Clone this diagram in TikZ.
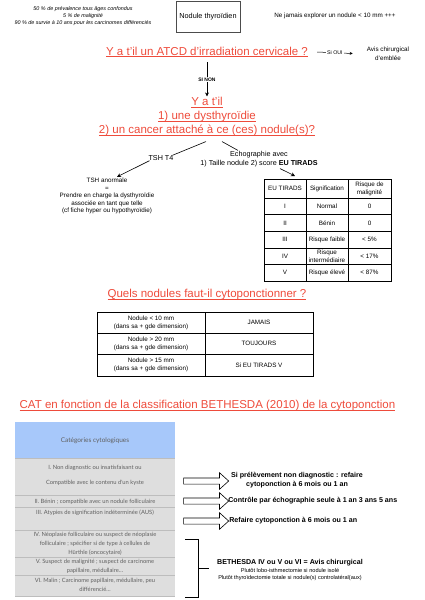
\documentclass[tikz,border=0pt]{standalone}
\usepackage{fontspec}
\setmainfont{Liberation Sans}
\newfontfamily\catfont{Lato}
\usetikzlibrary{arrows.meta, shapes.arrows, positioning, calc}

\definecolor{titlered}{HTML}{EE4B3B}
\definecolor{catblue}{HTML}{A7C8FA}
\definecolor{catgray}{HTML}{DEDEDE}
\definecolor{catline}{HTML}{BDBDBD}
\definecolor{cattext}{HTML}{606060}

% underline drawn as a rule under the text
\newcommand\ulred[1]{\setbox0\hbox{#1}\rlap{\rule[-2pt]{\wd0}{0.7pt}}\box0}

\tikzset{
  redtitle/.style={text=titlered, font=\fontsize{11.5}{14}\selectfont,
                   align=center, inner sep=1pt},
  smalltext/.style={font=\fontsize{6.3}{7.5}\selectfont, align=center, inner sep=1pt},
  celltext/.style={font=\fontsize{6.3}{8}\selectfont, align=center, inner sep=0pt},
  boldtext/.style={font=\bfseries\fontsize{7.1}{8.5}\selectfont, align=center, inner sep=1pt},
  hollowarrow/.style={single arrow, draw=black, fill=white, line width=0.6pt,
                      inner sep=2.75pt, single arrow head extend=5.25pt,
                      single arrow tip angle=84, minimum height=45pt, minimum width=16pt},
  cattext/.style={text=cattext, font=\catfont\fontsize{5.8}{9}\selectfont,
                  align=center, inner sep=0pt},
  linklabel/.style={fill=white, inner sep=1pt, font=\fontsize{5.3}{6}\selectfont},
  link/.style={line width=0.6pt},
  linkarrow/.style={-{Stealth[length=4pt,width=4pt]}, line width=0.6pt}
}

\begin{document}
\begin{tikzpicture}[x=1pt, y=-1pt]
\useasboundingbox (0,0) rectangle (424,600);

% header
\node[smalltext, font=\itshape\fontsize{5.4}{7}\selectfont] (stats) at (83,16)
  {50 \% de prévalence tous âges confondus\\5 \% de malignité\\
   90 \% de survie à 10 ans pour les carcinomes différenciés};
\node[draw=black!70, line width=0.5pt, minimum width=64pt, minimum height=31pt,
      font=\fontsize{7.3}{8}\selectfont] (nodule) at (208,16.5) {Nodule thyroïdien};
\node[smalltext] (jamais) at (335,16) {Ne jamais explorer un nodule < 10 mm +++};

% irradiation
\node[redtitle] (atcd) at (207,52) {\ulred{Y a t'il un ATCD d'irradiation cervicale ?}};
\node[smalltext, font=\fontsize{6.3}{9}\selectfont] (avis) at (388,53.5)
  {Avis chirurgical\\d'emblée};
\draw[-{Stealth[length=3pt,width=3pt]}, line width=0.5pt] ([xshift=8pt]atcd.east)
  -- node[linklabel] {Si OUI} ([xshift=-13pt]avis.west);

\node[redtitle] (q2) at (207,117)
  {\ulred{Y a t'il}\\\ulred{1) une dysthyroïdie}\\
   \ulred{2) un cancer attaché à ce (ces) nodule(s)?}};
\draw[linkarrow] ([yshift=-4pt]atcd.south)
  -- node[linklabel, font=\bfseries\fontsize{5}{6}\selectfont] {SI NON} (q2.north);

% TSH branch
\node[smalltext, font=\fontsize{7.2}{8}\selectfont] (tsh) at (161,158) {TSH T4};
\node[smalltext] (tshab) at (107,196)
  {TSH anormale\\=\\Prendre en charge la dysthyroïdie\\
   associée en tant que telle\\(cf fiche hyper ou hypothyroïdie)};
\draw[link] ([xshift=-1pt,yshift=-4pt]q2.south) -- ([xshift=-2pt,yshift=-1pt]tsh.north east);
\draw[linkarrow] ([xshift=2pt,yshift=1pt]tsh.south west) -- ([xshift=10pt]tshab.north);

% echo branch
\node[smalltext, font=\fontsize{7.2}{9}\selectfont] (echo) at (259,159.5)
  {Echographie avec\\1) Taille nodule 2) score \textbf{EU TIRADS}};
\draw[link] ([xshift=15pt,yshift=-4pt]q2.south) -- ([xshift=-21pt]echo.north);
\draw[linkarrow] ([xshift=21pt]echo.south) -- (295,176);

% EU TIRADS table
\draw[line width=0.5pt] (264,179) rectangle (391,281);
\draw[line width=0.5pt] (306,179) -- (306,281) (348,179) -- (348,281);
\node[celltext] (thnum) at (285,188.5) {EU TIRADS};
\node[celltext] (thsig) at (327,188.5) {Signification};
\node[celltext] (thrisk) at (369.5,188.5) {Risque de\\malignité};
\foreach \num/\sig/\risk [count=\i] in {I/Normal/0, II/Bénin/0, III/Risque faible/< 5\%,
    IV/{Risque\\intermédiaire}/< 17\%, V/Risque élevé/< 87\%}{
  \draw[line width=0.5pt] (264,{198+16.6*(\i-1)}) -- (391,{198+16.6*(\i-1)});
  \node[celltext] (tnum\i) at (285,{198+16.6*(\i-0.5)}) {\num};
  \node[celltext] (tsig\i) at (327,{198+16.6*(\i-0.5)}) {\sig};
  \node[celltext] (trisk\i) at (369.5,{198+16.6*(\i-0.5)}) {\risk};
}

% which nodules
\node[redtitle] (q3) at (207,295) {\ulred{Quels nodules faut-il cytoponctionner ?}};
\draw[line width=0.5pt] (97,312) rectangle (313,376);
\draw[line width=0.5pt] (205,312) -- (205,376) (97,333) -- (313,333) (97,354) -- (313,354);
\node[celltext] (size1) at (151,322.5) {Nodule < 10 mm\\(dans sa + gde dimension)};
\node[celltext] (rule1) at (259,322.5) {JAMAIS};
\node[celltext] (size2) at (151,343.5) {Nodule > 20 mm\\(dans sa + gde dimension)};
\node[celltext] (rule2) at (259,343.5) {TOUJOURS};
\node[celltext] (size3) at (151,365) {Nodule > 15 mm\\(dans sa + gde dimension)};
\node[celltext] (rule3) at (259,365) {Si EU TIRADS V};

% Bethesda
\node[redtitle] (cat) at (207.5,406)
  {\ulred{CAT en fonction de la classification BETHESDA (2010) de la cytoponction}};
\fill[catblue] (15,422) rectangle (175,458);
\fill[catgray] (15,458) rectangle (175,597);
\foreach \ypos in {458,495,507,530,557,575,596}
  \draw[catline, line width=1pt] (15,\ypos) -- (175,\ypos);
\node[cattext, font=\catfont\fontsize{6.5}{8}\selectfont] (cathead) at (95,441)
  {Catégories cytologiques};
\node[cattext, font=\catfont\fontsize{5.8}{15}\selectfont] (cat1) at (95,475.5)
  {I. Non diagnostic ou insatisfaisant ou\\Compatible avec le contenu d'un kyste};
\node[cattext] (cat2) at (95,501.5) {II. Bénin ; compatible avec un nodule folliculaire};
\node[cattext] (cat3) at (95,512.5) {III. Atypies de signification indéterminée (AUS)};
\node[cattext] (cat4) at (95,544)
  {IV. Néoplasie folliculaire ou suspect de néoplasie\\
   folliculaire ; spécifier si de type à cellules de\\Hürthle (oncocytaire)};
\node[cattext] (cat5) at (95,566.5)
  {V. Suspect de malignité ; suspect de carcinome\\papillaire, médullaire…};
\node[cattext] (cat6) at (95,584.5)
  {VI. Malin ; Carcinome papillaire, médullaire, peu\\différencié…};

% hollow arrows
\node[hollowarrow] (arr1) at (204.5,481) {};
\node[hollowarrow] (arr2) at (204.5,501) {};
\node[hollowarrow] (arr3) at (204.5,521) {};
\node[boldtext] (act1) at (297,480)
  {Si prélèvement non diagnostic : refaire\\cytoponction à 6 mois ou 1 an};
\node[boldtext, anchor=west] (act2) at ([xshift=-2pt]arr2.tip) {Contrôle par échographie seule à 1 an 3 ans 5 ans};
\node[boldtext, anchor=west] (act3) at ([xshift=-1pt]arr3.tip) {Refaire cytoponction à 6 mois ou 1 an};

% bracket
\draw[line width=0.7pt] (185,539) -- (198,539) -- (198,597) -- (185,597);
\draw[line width=0.7pt] (198,568) -- (209,568);
\node[boldtext] (surg) at (290,563)
  {BETHESDA IV ou V ou VI = Avis chirurgical};
\node[smalltext, font=\fontsize{5.6}{7}\selectfont, below=0pt of surg] (surgtxt)
  {Plutôt lobo-isthmectomie si nodule isolé\\
   Plutôt thyroïdectomie totale si nodule(s) controlatéral(aux)};
\end{tikzpicture}
\end{document}
